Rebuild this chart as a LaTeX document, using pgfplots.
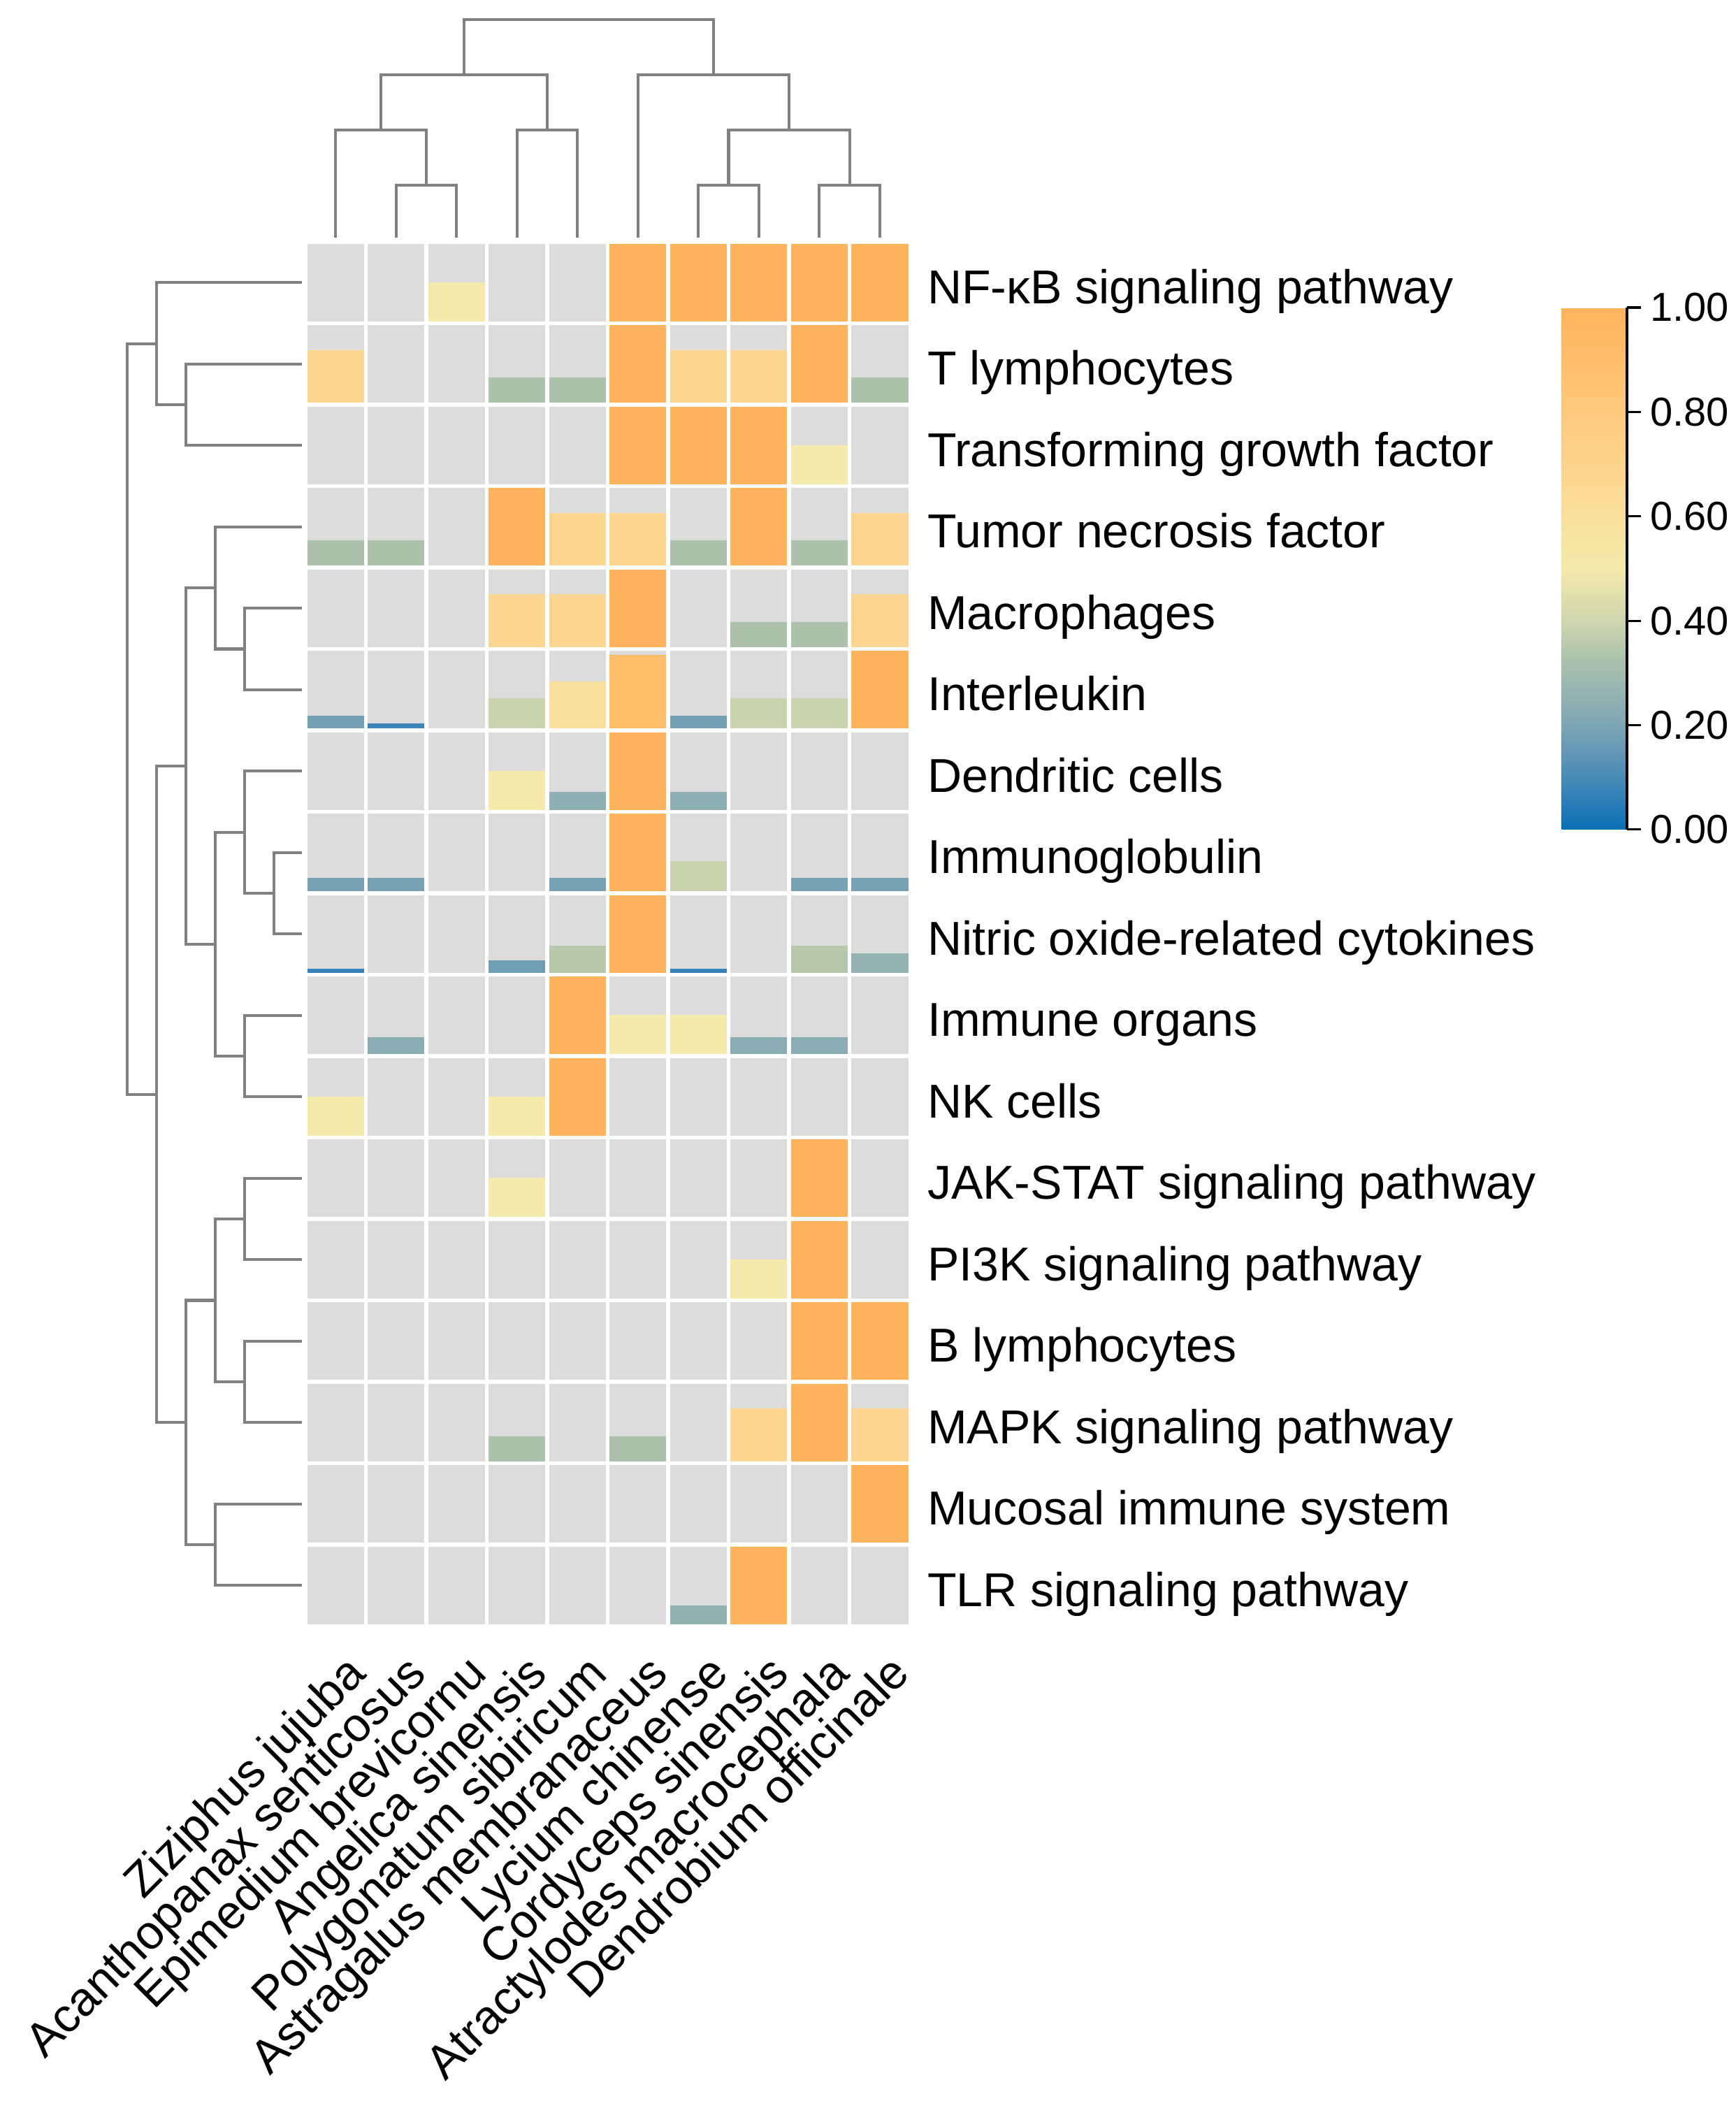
\documentclass[border=0pt]{standalone}
\usepackage{fontspec}
\setmainfont{Liberation Sans}
\usepackage{pgfplots}
\usepackage{pgfplotstable}
\pgfplotsset{compat=1.18}

\definecolor{cellgrey}{RGB}{220,220,220}
\definecolor{dendgray}{RGB}{128,128,128}

\pgfplotsset{
  colormap={hm}{rgb255(0pt)=(10,112,182); rgb255(8pt)=(61,133,184);
    rgb255(18pt)=(116,160,180); rgb255(24pt)=(142,175,179);
    rgb255(33pt)=(173,194,173); rgb255(39pt)=(203,211,174);
    rgb255(50pt)=(243,234,171); rgb255(67pt)=(253,215,146);
    rgb255(100pt)=(255,179,92)},
  dendro/.style={draw=dendgray, line width=0.6pt, mark=none},
}

% column c (0 = Ziziphus ... 9 = Dendrobium), row r (0 = top row), value v
\pgfplotstableread{
c r v
2 0 0.50
5 0 1
6 0 1
7 0 1
8 0 1
9 0 1
0 1 0.67
3 1 0.33
4 1 0.33
5 1 1
6 1 0.67
7 1 0.67
8 1 1
9 1 0.33
5 2 1
6 2 1
7 2 1
8 2 0.50
0 3 0.33
1 3 0.33
3 3 1
4 3 0.67
5 3 0.67
6 3 0.33
7 3 1
8 3 0.33
9 3 0.67
3 4 0.67
4 4 0.67
5 4 1
7 4 0.33
8 4 0.33
9 4 0.67
0 5 0.18
1 5 0.08
3 5 0.39
4 5 0.60
5 5 0.92
6 5 0.18
7 5 0.39
8 5 0.39
9 5 1
3 6 0.50
4 6 0.24
5 6 1
6 6 0.24
0 7 0.19
1 7 0.19
4 7 0.19
5 7 1
6 7 0.39
8 7 0.19
9 7 0.19
0 8 0.07
3 8 0.17
4 8 0.35
5 8 1
6 8 0.07
8 8 0.35
9 8 0.26
1 9 0.23
4 9 1
5 9 0.50
6 9 0.50
7 9 0.23
8 9 0.23
0 10 0.50
3 10 0.50
4 10 1
3 11 0.50
8 11 1
7 12 0.50
8 12 1
8 13 1
9 13 1
3 14 0.33
5 14 0.33
7 14 0.67
8 14 1
9 14 0.67
9 15 1
6 16 0.25
7 16 1
}\cells

\begin{document}
\begin{tikzpicture}
\begin{axis}[
    x=12.716pt, y=17.126pt,
    xmin=0, xmax=10, ymin=0, ymax=17,
    clip=false, clip marker paths=true,
    axis line style={draw=none},
    axis background/.style={fill=cellgrey},
    xtick={0.5,1.5,...,9.5},
    ytick={0.5,1.5,...,16.5},
    major tick length=0pt,
    xticklabels={Ziziphus jujuba, Acanthopanax senticosus, Epimedium brevicornu,
      Angelica sinensis, Polygonatum sibiricum, Astragalus membranaceus,
      Lycium chinense, Cordyceps sinensis, Atractylodes macrocephala,
      Dendrobium officinale},
    yticklabels={TLR signaling pathway, Mucosal immune system,
      MAPK signaling pathway, B lymphocytes, PI3K signaling pathway,
      JAK-STAT signaling pathway, NK cells, Immune organs,
      Nitric oxide-related cytokines, Immunoglobulin, Dendritic cells,
      Interleukin, Macrophages, Tumor necrosis factor,
      Transforming growth factor, T lymphocytes, NF-κB signaling pathway},
    yticklabel pos=right,
    tick label style={font=\fontsize{10}{12}\selectfont, inner sep=0pt},
    xticklabel style={xshift=1.6pt, yshift=-5.1pt, rotate=45, anchor=north east},
    yticklabel style={anchor=base west, xshift=3.5pt, yshift=-4.4pt},
    colormap name=hm, point meta min=0, point meta max=1,
  ]
  % bars: height and colour both follow the value
  \addplot[scatter, only marks, mark=square*, mark size=6.358pt,
    point meta=explicit,
    scatter/use mapped color={draw=mapped color, fill=mapped color},
    mark options={line width=0.1pt},
    visualization depends on={\thisrow{v} \as \bv},
    scatter/@pre marker code/.append style={/tikz/yscale=1.3468*\bv}]
    table[x expr=\thisrow{c}+0.5, y expr=16-\thisrow{r}+0.5*\thisrow{v}, meta=v]{\cells};

  % white cell separators
  \addplot[white, line width=0.75pt, mark=none, unbounded coords=jump] coordinates {
    (0,0) (0,17) (nan,nan) (1,0) (1,17) (nan,nan) (2,0) (2,17) (nan,nan)
    (3,0) (3,17) (nan,nan) (4,0) (4,17) (nan,nan) (5,0) (5,17) (nan,nan)
    (6,0) (6,17) (nan,nan) (7,0) (7,17) (nan,nan) (8,0) (8,17) (nan,nan)
    (9,0) (9,17) (nan,nan) (10,0) (10,17) (nan,nan)
    (0,0) (10,0) (nan,nan) (0,1) (10,1) (nan,nan) (0,2) (10,2) (nan,nan)
    (0,3) (10,3) (nan,nan) (0,4) (10,4) (nan,nan) (0,5) (10,5) (nan,nan)
    (0,6) (10,6) (nan,nan) (0,7) (10,7) (nan,nan) (0,8) (10,8) (nan,nan)
    (0,9) (10,9) (nan,nan) (0,10) (10,10) (nan,nan) (0,11) (10,11) (nan,nan)
    (0,12) (10,12) (nan,nan) (0,13) (10,13) (nan,nan) (0,14) (10,14) (nan,nan)
    (0,15) (10,15) (nan,nan) (0,16) (10,16) (nan,nan) (0,17) (10,17)};

  % row dendrogram
  \addplot[dendro] coordinates {(-0.058,15.5) (-1.977,15.5) (-1.977,14.5) (-0.058,14.5)};
  \addplot[dendro] coordinates {(-0.058,16.5) (-2.462,16.5) (-2.462,15.0) (-1.977,15.0)};
  \addplot[dendro] coordinates {(-0.058,12.5) (-1.006,12.5) (-1.006,11.5) (-0.058,11.5)};
  \addplot[dendro] coordinates {(-0.058,13.5) (-1.491,13.5) (-1.491,12.0) (-1.006,12.0)};
  \addplot[dendro] coordinates {(-0.058,9.5) (-0.520,9.5) (-0.520,8.5) (-0.058,8.5)};
  \addplot[dendro] coordinates {(-0.058,10.5) (-1.006,10.5) (-1.006,9.0) (-0.520,9.0)};
  \addplot[dendro] coordinates {(-0.058,7.5) (-1.006,7.5) (-1.006,6.5) (-0.058,6.5)};
  \addplot[dendro] coordinates {(-1.006,9.75) (-1.491,9.75) (-1.491,7.0) (-1.006,7.0)};
  \addplot[dendro] coordinates {(-1.491,12.75) (-1.977,12.75) (-1.977,8.375) (-1.491,8.375)};
  \addplot[dendro] coordinates {(-0.058,5.5) (-1.006,5.5) (-1.006,4.5) (-0.058,4.5)};
  \addplot[dendro] coordinates {(-0.058,3.5) (-1.006,3.5) (-1.006,2.5) (-0.058,2.5)};
  \addplot[dendro] coordinates {(-1.006,5.0) (-1.491,5.0) (-1.491,3.0) (-1.006,3.0)};
  \addplot[dendro] coordinates {(-0.058,1.5) (-1.491,1.5) (-1.491,0.5) (-0.058,0.5)};
  \addplot[dendro] coordinates {(-1.491,4.0) (-1.977,4.0) (-1.977,1.0) (-1.491,1.0)};
  \addplot[dendro] coordinates {(-1.977,10.5625) (-2.462,10.5625) (-2.462,2.5) (-1.977,2.5)};
  \addplot[dendro] coordinates {(-2.462,15.75) (-2.948,15.75) (-2.948,6.53125) (-2.462,6.53125)};

  % column dendrogram
  \addplot[dendro] coordinates {(1.5,17.052) (1.5,17.695) (2.5,17.695) (2.5,17.052)};
  \addplot[dendro] coordinates {(0.5,17.052) (0.5,18.373) (2.0,18.373) (2.0,17.695)};
  \addplot[dendro] coordinates {(3.5,17.052) (3.5,18.373) (4.5,18.373) (4.5,17.052)};
  \addplot[dendro] coordinates {(1.25,18.373) (1.25,19.052) (4.0,19.052) (4.0,18.373)};
  \addplot[dendro] coordinates {(6.5,17.052) (6.5,17.695) (7.5,17.695) (7.5,17.052)};
  \addplot[dendro] coordinates {(8.5,17.052) (8.5,17.695) (9.5,17.695) (9.5,17.052)};
  \addplot[dendro] coordinates {(7.0,17.695) (7.0,18.373) (9.0,18.373) (9.0,17.695)};
  \addplot[dendro] coordinates {(5.5,17.052) (5.5,19.052) (8.0,19.052) (8.0,18.373)};
  \addplot[dendro] coordinates {(2.625,19.052) (2.625,19.730) (6.75,19.730) (6.75,19.052)};

  \coordinate (cbpos) at (axis cs:20.11,16.193);
  \coordinate (bbll) at (axis cs:-5.052,-5.918);
  \coordinate (bbur) at (axis cs:23.653,19.970);
\end{axis}

% colour bar
\begin{axis}[
    at={(cbpos)}, anchor=north west,
    hide axis, scale only axis, width=0pt, height=0pt,
    xmin=0, xmax=1, ymin=0, ymax=1,
    colormap name=hm, point meta min=0, point meta max=1,
    colorbar,
    colorbar style={
      at={(parent axis.north west)}, anchor=north west,
      width=13.7pt, height=109.8pt,
      axis x line=none, axis y line*=right,
      y axis line style={black, line width=0.6pt},
      ytick={0,0.2,0.4,0.6,0.8,1},
      tick align=outside, major tick length=2.9pt,
      ytick style={black, line width=0.45pt},
      yticklabel={\pgfmathprintnumber[assume math mode=true,fixed,fixed zerofill,precision=2]{\tick}},
      yticklabel style={font=\fontsize{8.5}{10}\selectfont, inner sep=1.8pt},
    },
  ]
  \addplot[draw=none] coordinates {(0,0)};
\end{axis}

\pgfresetboundingbox
\path[use as bounding box] (bbll) rectangle (bbur);
\end{tikzpicture}
\end{document}
